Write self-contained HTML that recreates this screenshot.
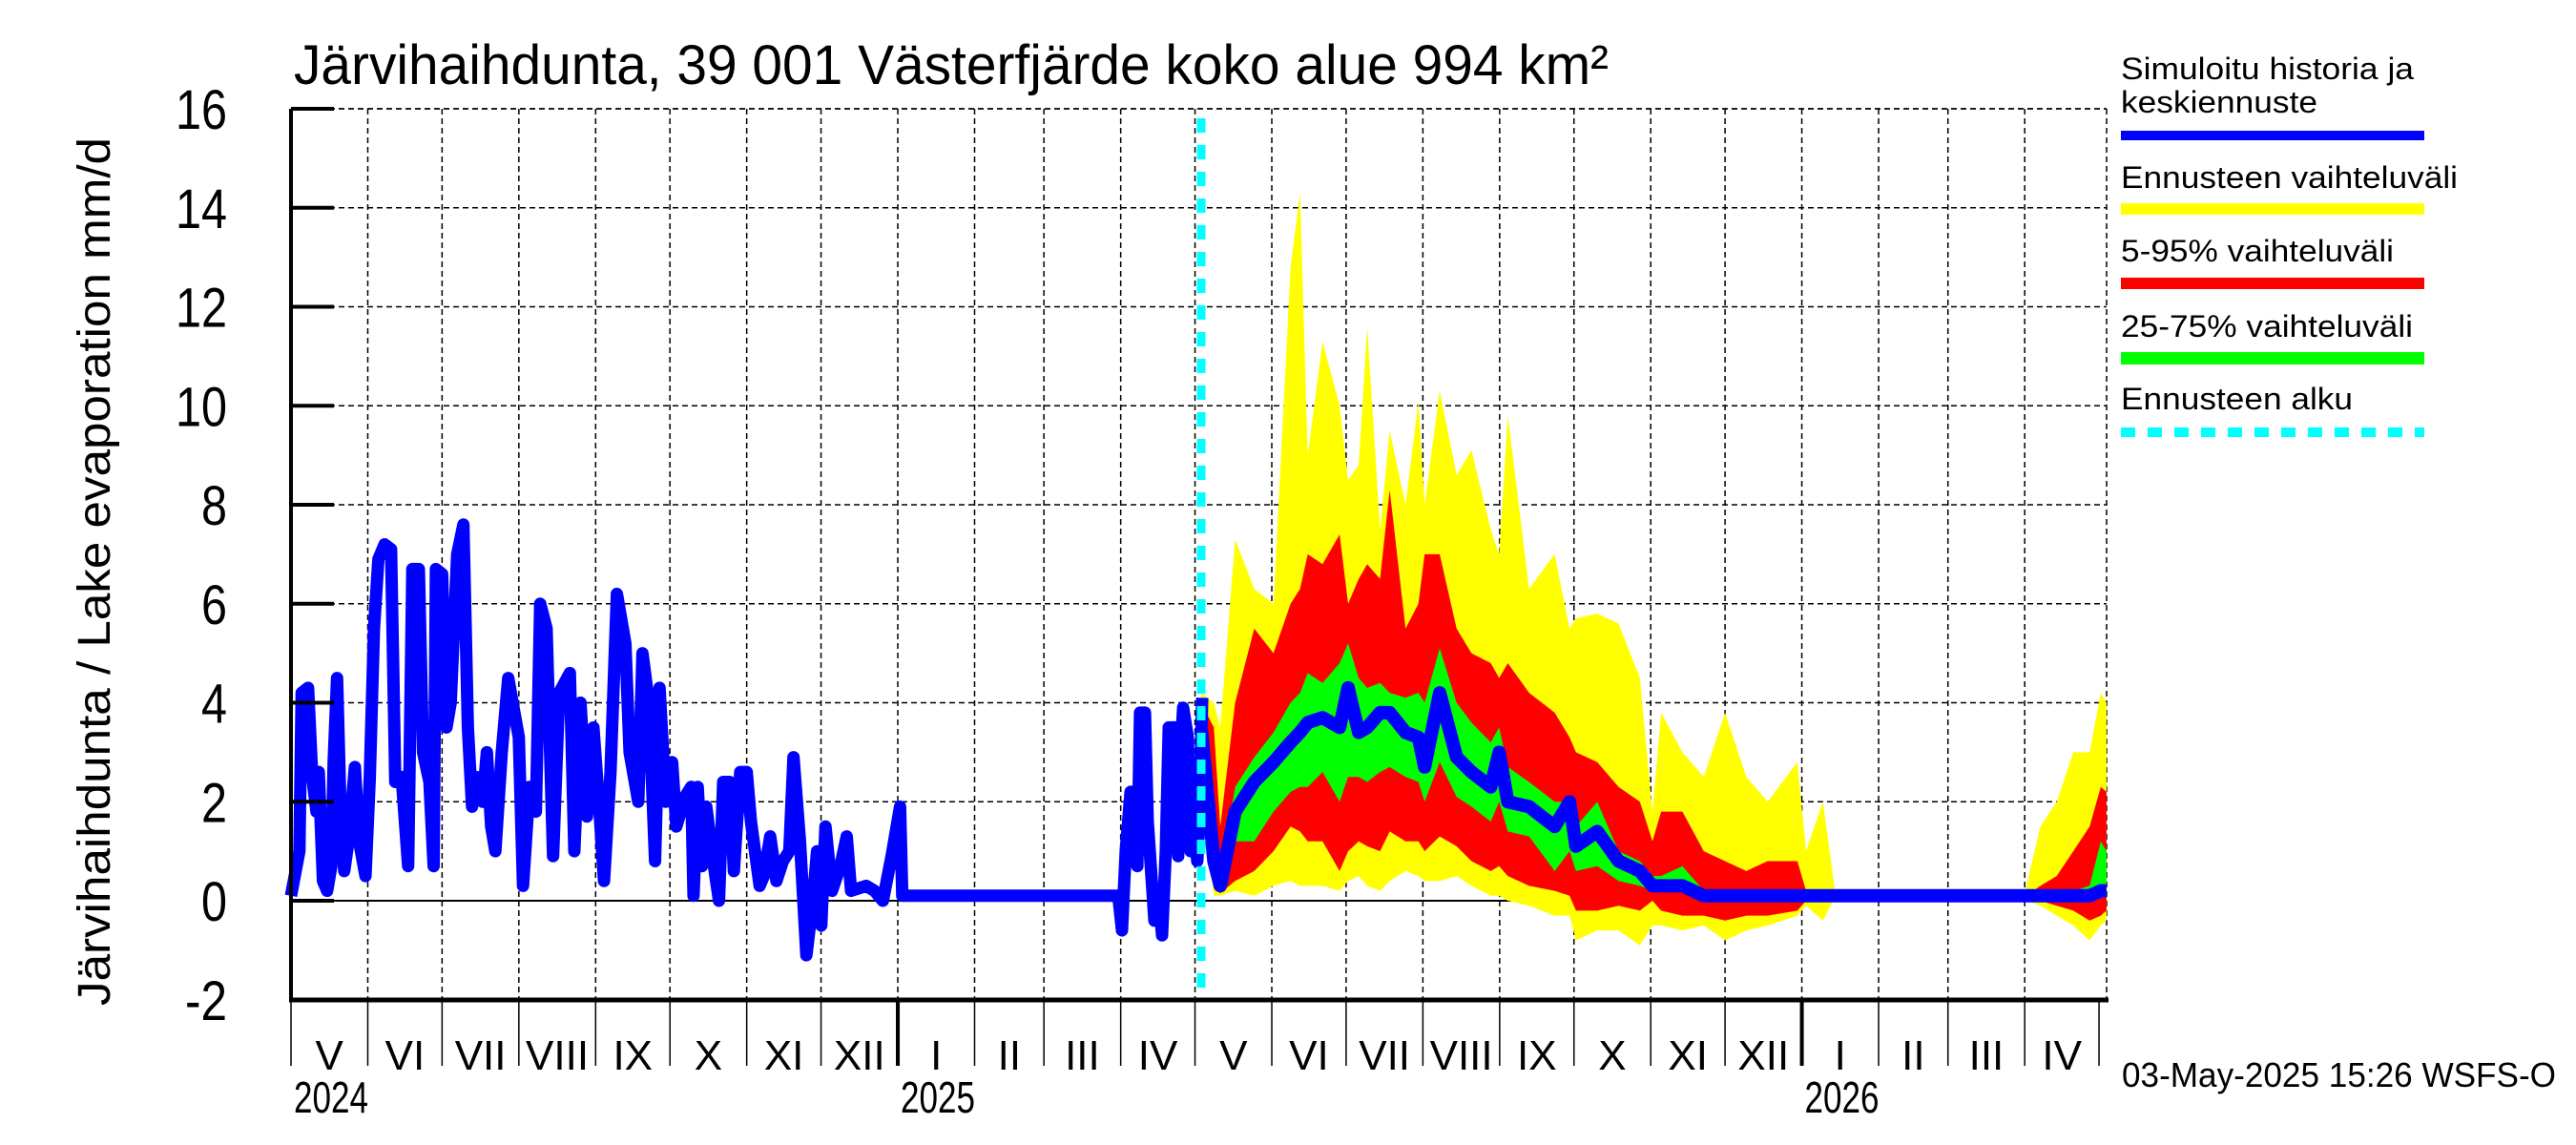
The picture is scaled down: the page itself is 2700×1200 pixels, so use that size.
<!DOCTYPE html>
<html><head><meta charset="utf-8"><style>
html,body{margin:0;padding:0;background:#fff;}
svg{display:block;font-family:"Liberation Sans",sans-serif;}
</style></head><body>
<svg id="chart" width="2700" height="1200" viewBox="0 0 2700 1200" xmlns="http://www.w3.org/2000/svg">
<rect x="0" y="0" width="2700" height="1200" fill="#fff"/>
<g id="grid"></g>
<g id="bands"></g>
<g id="lines"></g>
<g id="axes"></g>
<text x="308" y="88" font-size="58" textLength="1378" lengthAdjust="spacingAndGlyphs">Järvihaihdunta, 39 001 Västerfjärde koko alue 994 km²</text>
<text transform="translate(115,1054) rotate(-90)" font-size="48" textLength="910" lengthAdjust="spacingAndGlyphs">Järvihaihdunta / Lake evaporation   mm/d</text>
<g font-size="32">
  <text x="2223" y="83" textLength="307" lengthAdjust="spacingAndGlyphs">Simuloitu historia ja</text>
  <text x="2223" y="118" textLength="206" lengthAdjust="spacingAndGlyphs">keskiennuste</text>
  <rect x="2223" y="137" width="318" height="10" fill="#0000ff"/>
  <text x="2223" y="197" textLength="353" lengthAdjust="spacingAndGlyphs">Ennusteen vaihteluväli</text>
  <rect x="2223" y="213" width="318" height="12" fill="#ffff00"/>
  <text x="2223" y="274" textLength="286" lengthAdjust="spacingAndGlyphs">5-95% vaihteluväli</text>
  <rect x="2223" y="291" width="318" height="12" fill="#ff0000"/>
  <text x="2223" y="353" textLength="306" lengthAdjust="spacingAndGlyphs">25-75% vaihteluväli</text>
  <rect x="2223" y="369" width="318" height="13" fill="#00ff00"/>
  <text x="2223" y="429" textLength="243" lengthAdjust="spacingAndGlyphs">Ennusteen alku</text>
  <line x1="2223" y1="453" x2="2541" y2="453" stroke="#00ffff" stroke-width="10" stroke-dasharray="15 13"/>
</g>
<text x="2224" y="1139" font-size="36" textLength="455" lengthAdjust="spacingAndGlyphs">03-May-2025 15:26 WSFS-O</text>
</svg>
<script>
const yTicks = [-2,0,2,4,6,8,10,12,14,16];
const monthLabels = ["I","II","III","IV","V","VI","VII","VIII","IX","X","XI","XII"];
const hDays = [0,3.4,4.3,6.9,8.6,10.3,11.2,12.9,14.6,16.3,17.2,18.6,19.8,21.5,23.2,25.8,27.5,30.1,31.8,33.5,35.3,37.8,40.4,42.1,44.7,47.3,49,51.6,53.3,55.9,57.6,58.5,61,62.8,64.5,67.1,69.6,71.4,73.1,74.8,77.4,79.1,80.8,82.5,85.1,87.7,92,93.7,96.3,98.9,100.6,103.2,105.8,108.3,112.6,114.4,116.9,119.5,122.1,124.7,126.4,129,131.6,135,136.7,140.2,141.9,144.5,147,148.8,151.3,153.9,155.6,159.1,161.6,162.5,164.2,165.9,167.7,170.2,172.8,174.5,177.1,178.8,181.4,184,185.7,189.2,190.9,193.5,196,198.6,201.2,202.9,205.5,208.1,210.7,212.4,214.1,215.8,218.4,221.8,224.4,226.1,232.2,235.6,239,242.5,245.9,246.8,334,335.5,337,339,341,341.7,342.8,344.8,345.9,348.6,350.5,351.7,353.2,354.4,357,358.2,359.4,360.2,362.1,363.2,364,365.9,366.7,367.9];
const hVals = [0.1,1.0,4.2,4.3,2.5,1.8,2.6,0.4,0.2,0.7,2.8,4.5,2.2,0.6,1.2,2.7,1.2,0.5,2.5,5.5,6.9,7.2,7.1,2.4,2.5,0.7,6.7,6.7,3.0,2.4,0.7,6.7,6.6,3.5,4.0,7.0,7.6,3.5,1.9,2.5,2.0,3.0,1.5,1.0,3.0,4.5,3.3,0.3,2.3,1.8,6.0,5.5,0.9,4.2,4.6,1.0,4.0,1.7,3.5,1.7,0.4,2.6,6.2,5.2,3.0,2.0,5.0,4.0,0.8,4.3,2.0,2.8,1.5,2.1,2.3,0.1,2.3,0.7,1.9,0.9,0.0,2.4,2.4,0.6,2.6,2.6,1.6,0.3,0.5,1.3,0.4,0.8,1.0,2.9,1.2,-1.1,0.0,1.0,-0.5,1.5,0.2,0.7,1.3,0.2,0.3,0.2,0.0,0.9,1.9,0.1,0.1,-0.6,1.0,2.2,2.2,0.7,3.8,3.8,1.6,-0.4,0.0,-0.7,1.0,3.5,3.5,0.9,3.2,3.9,3.3,1.0,2.0,0.8,1.6,4.1,3.5];
const fDays = [367.5,372.6,375.2,381.2,388.9,396.7,403.6,407.4,410.5,416.5,423.4,426.8,431.1,434.5,439.7,443.6,450,455.2,457.7,463.8,470.6,476.6,484.4,487.8,491.3,499.9,510.2,516.2,518.8,527.4,536,544.6,549.7,553.2,561.8,570.4,579,587.6,596.2,608.2,611.7,618.5,623.7,699,700.7,706.3,712.9,719.6,726.2,730.7,733];
const yMax = [4.2,4.0,3.5,7.3,6.3,6.0,12.8,14.3,9.0,11.3,10.0,8.5,8.8,11.6,7.5,9.5,8.0,10.1,8.0,10.3,8.6,9.1,7.5,7.0,9.8,6.3,7.0,5.5,5.7,5.8,5.6,4.5,1.8,3.8,3.0,2.5,3.8,2.5,2.0,2.8,1.0,2.0,0.1,0.1,0.3,1.5,2.0,3.0,3.0,4.2,4.0];
const redHi = [4.0,3.5,1.5,4.0,5.5,5.0,6.0,6.3,7.0,6.8,7.4,6.0,6.5,6.8,6.5,8.3,5.5,6.0,7.0,7.0,5.5,5.0,4.8,4.5,4.8,4.2,3.8,3.3,3.0,2.8,2.3,2.0,1.2,1.8,1.8,1.0,0.8,0.6,0.8,0.8,0.2,0.1,0.1,0.1,0.1,0.3,0.5,1.0,1.5,2.3,2.2];
const greenHi = [3.5,2.0,0.5,2.3,2.9,3.4,4.0,4.2,4.6,4.4,4.8,5.2,4.5,4.3,4.4,4.2,4.1,4.2,4.0,5.1,4.0,3.6,3.2,3.5,2.7,2.4,2.0,2.0,1.5,2.0,1.0,0.8,0.5,0.5,0.7,0.2,0.15,0.1,0.1,0.1,0.1,0.1,0.1,0.1,0.1,0.1,0.1,0.2,0.3,1.2,1.0];
const median = [3.5,0.8,0.3,1.8,2.4,2.8,3.2,3.4,3.6,3.7,3.5,4.3,3.4,3.5,3.8,3.8,3.4,3.3,2.7,4.2,2.9,2.6,2.3,3.0,2.0,1.9,1.5,2.0,1.1,1.4,0.8,0.6,0.3,0.3,0.3,0.1,0.1,0.1,0.1,0.1,0.1,0.1,0.1,0.1,0.1,0.1,0.1,0.1,0.1,0.2,0.2];
const greenLo = [3.0,0.5,0.2,1.2,1.2,1.8,2.2,2.3,2.3,2.6,2.0,2.5,2.5,2.4,2.6,2.7,2.5,2.4,2.0,2.8,2.1,1.9,1.6,2.0,1.4,1.3,0.6,1.0,0.6,0.7,0.4,0.3,0.2,0.2,0.2,0.1,0.1,0.1,0.1,0.1,0.1,0.1,0.1,0.1,0.1,0.1,0.1,0.1,0.1,0.1,0.1];
const redLo = [2.5,0.3,0.15,0.4,0.6,1.0,1.5,1.4,1.2,1.2,0.6,1.0,1.2,1.1,1.0,1.4,1.2,1.2,1.0,1.3,1.1,0.8,0.6,0.7,0.5,0.3,0.2,0.1,-0.2,-0.2,-0.1,-0.2,0.0,-0.2,-0.3,-0.3,-0.4,-0.3,-0.3,-0.2,0.0,0.1,0.1,0.1,0.1,0.0,-0.1,-0.2,-0.4,-0.3,-0.2];
const yMin = [2.0,0.1,0.1,0.2,0.1,0.3,0.4,0.3,0.3,0.3,0.2,0.4,0.5,0.3,0.2,0.4,0.6,0.5,0.4,0.4,0.5,0.3,0.1,0.1,0.0,-0.1,-0.3,-0.3,-0.8,-0.6,-0.6,-0.9,-0.5,-0.5,-0.6,-0.5,-0.8,-0.6,-0.5,-0.3,-0.1,-0.4,0.1,0.1,0.0,-0.1,-0.3,-0.5,-0.8,-0.5,-0.4];
const forecastStartDay = 367.5;

const NS="http://www.w3.org/2000/svg";
const X0=305, X1=2208, PXD=2.596, Y0=944, PXU=51.875, YTOP=114, YBOT=1048;
const xS=d=>X0+d*PXD, yS=v=>Y0-v*PXU;
const baseDate=Date.UTC(2024,4,1);
const dayOf=(y,m)=>(Date.UTC(y,m,1)-baseDate)/86400000;
function mk(tag,attrs,parent){const e=document.createElementNS(NS,tag);for(const k in attrs)e.setAttribute(k,attrs[k]);parent.appendChild(e);return e;}
const grid=document.getElementById('grid'),bands=document.getElementById('bands'),lines=document.getElementById('lines'),axes=document.getElementById('axes');

yTicks.forEach(v=>{
  const y=yS(v);
  if(v===0){const l=mk('line',{x1:X0,y1:y,x2:X1,y2:y,stroke:'#000','stroke-width':2},grid);}
  else if(v>-2){const l=mk('line',{x1:X0,y1:y,x2:X1,y2:y,stroke:'#000','stroke-width':1.5,'stroke-dasharray':'6 4'},grid);}
  const t=mk('line',{x1:X0,y1:y,x2:X0+45,y2:y,stroke:'#000','stroke-width':4},axes);
  
  
  const s=String(v);
  const lab=mk('text',{x:238,y:y+21,'font-size':58,'text-anchor':'end',textLength:s.length===1?27:(v<0?44:54),lengthAdjust:'spacingAndGlyphs'},axes);
  lab.textContent=s;
  
  
});
for(let i=0;i<=24;i++){
  const yr=2024+Math.floor((4+i)/12), m=(4+i)%12;
  const d=dayOf(yr,m); const x=xS(d);
  if(i>0&&i<24){const g=mk('line',{x1:x,y1:YTOP,x2:x,y2:YBOT,stroke:'#000','stroke-width':1.5,'stroke-dasharray':'6 4'},grid);}
  const tk=mk('line',{x1:x,y1:YBOT,x2:x,y2:1117,stroke:'#000','stroke-width':m===0?4:1.5},axes);
  
  
  if(i<24){
    const yr2=2024+Math.floor((5+i)/12), m2=(5+i)%12;
    const xm=(x+xS(dayOf(yr2,m2)))/2;
    const lab=mk('text',{x:xm,y:1121,'font-size':44,'text-anchor':'middle'},axes);
    lab.textContent=monthLabels[m];
    
    
  }
  if(i===0||m===0){
    const yl=mk('text',{x:x+3,y:1166,'font-size':46,textLength:78,lengthAdjust:'spacingAndGlyphs'},axes);
    yl.textContent=String(yr);
    
    
  }
}
const tb=mk('line',{x1:X0,y1:YTOP,x2:X1,y2:YTOP,stroke:'#000','stroke-width':1.5,'stroke-dasharray':'6 4'},grid);


const rb=mk('line',{x1:X1,y1:YTOP,x2:X1,y2:YBOT,stroke:'#000','stroke-width':1.5,'stroke-dasharray':'6 4'},grid);



function band(hi,lo,color,name){
  let p=fDays.map((d,i)=>xS(d).toFixed(1)+','+yS(hi[i]).toFixed(1));
  for(let i=fDays.length-1;i>=0;i--)p.push(xS(fDays[i]).toFixed(1)+','+yS(lo[i]).toFixed(1));
  const e=mk('polygon',{points:p.join(' '),fill:color},bands);
  
  
}
band(yMax,yMin,'#ffff00','forecast-range-band');
band(redHi,redLo,'#ff0000','band-5-95');
band(greenHi,greenLo,'#00ff00','band-25-75');

const med=mk('polyline',{points:fDays.map((d,i)=>xS(d).toFixed(1)+','+yS(median[i]).toFixed(1)).join(' '),fill:'none',stroke:'#0000ff','stroke-width':14,'stroke-linejoin':'round'},lines);


const hist=mk('polyline',{points:hDays.map((d,i)=>xS(d).toFixed(1)+','+yS(hVals[i]).toFixed(1)).join(' '),fill:'none',stroke:'#0000ff','stroke-width':13,'stroke-linejoin':'round'},lines);


const fx=xS(forecastStartDay);
const cy=mk('line',{x1:fx,y1:YTOP+10,x2:fx,y2:YBOT,stroke:'#00ffff','stroke-width':9,'stroke-dasharray':'15 13'},lines);



const la=mk('line',{x1:X0,y1:YTOP,x2:X0,y2:YBOT+2,stroke:'#000','stroke-width':4},axes);


const ba=mk('line',{x1:X0-2,y1:YBOT,x2:X1+2,y2:YBOT,stroke:'#000','stroke-width':5},axes);


</script>
</body></html>
